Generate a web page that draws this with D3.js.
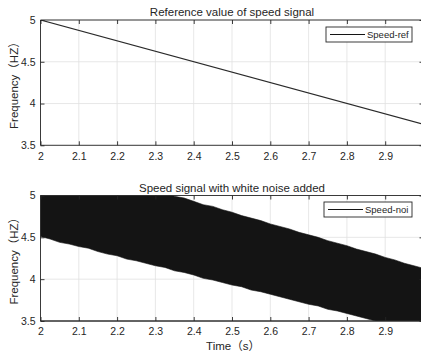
<!DOCTYPE html>
<html>
<head>
<meta charset="utf-8">
<script src="https://cdn.jsdelivr.net/npm/d3@7"></script>
<style>
  body { margin: 0; background: #fff; }
  text { font-family: "Liberation Sans", Arial, "Noto Sans CJK SC", sans-serif; fill: #262626; }
</style>
</head>
<body>
<svg id="chart" width="421" height="357"></svg>
<script>
// reference signal (straight ramp)
const refTime = [2, 3];
const refFreq = [5, 3.75];

// envelope of the noisy signal, every 0.025 s
const noiTime = [2.000, 2.025, 2.050, 2.075, 2.100, 2.125, 2.150, 2.175, 2.200, 2.225,
                 2.250, 2.275, 2.300, 2.325, 2.350, 2.375, 2.400, 2.425, 2.450, 2.475,
                 2.500, 2.525, 2.550, 2.575, 2.600, 2.625, 2.650, 2.675, 2.700, 2.725,
                 2.750, 2.775, 2.800, 2.825, 2.850, 2.875, 2.900, 2.925, 2.950, 2.975, 3.000];
const noiUpper = [5.46, 5.43, 5.39, 5.36, 5.33, 5.29, 5.26, 5.23, 5.19, 5.16,
                  5.13, 5.09, 5.06, 5.03, 4.99, 4.97, 4.93, 4.89, 4.87, 4.83,
                  4.80, 4.76, 4.73, 4.70, 4.66, 4.63, 4.60, 4.56, 4.53, 4.50,
                  4.46, 4.43, 4.40, 4.36, 4.33, 4.30, 4.26, 4.23, 4.19, 4.16, 4.13];
const noiLower = [4.51, 4.48, 4.44, 4.42, 4.39, 4.37, 4.33, 4.30, 4.28, 4.24,
                  4.22, 4.19, 4.16, 4.14, 4.10, 4.08, 4.05, 4.01, 3.99, 3.96,
                  3.93, 3.91, 3.87, 3.85, 3.82, 3.79, 3.76, 3.73, 3.70, 3.68,
                  3.64, 3.62, 3.59, 3.56, 3.53, 3.50, 3.47, 3.45, 3.41, 3.39, 3.36];

const xTicks = [2, 2.1, 2.2, 2.3, 2.4, 2.5, 2.6, 2.7, 2.8, 2.9, 3];
const yTicks = [3.5, 4, 4.5, 5];

const axColor = "#262626";
const gridColor = "#e1e1e1";
const inkColor = "#141414";
const fmt = d3.format("~g");

const svg = d3.select("#chart");

const x = d3.scaleLinear().domain([2, 3]).range([40.5, 423.5]);

function drawPanel(top, bottom, title, id) {
  const y = d3.scaleLinear().domain([3.5, 5]).range([bottom, top]);
  const g = svg.append("g");

  // grid
  g.selectAll(".gx").data(xTicks).enter().append("line")
    .attr("x1", d => x(d)).attr("x2", d => x(d))
    .attr("y1", top).attr("y2", bottom)
    .attr("stroke", gridColor).attr("stroke-width", 0.8);
  g.selectAll(".gy").data(yTicks).enter().append("line")
    .attr("x1", x(2)).attr("x2", x(3))
    .attr("y1", d => y(d)).attr("y2", d => y(d))
    .attr("stroke", gridColor).attr("stroke-width", 0.8);

  svg.append("clipPath").attr("id", id)
    .append("rect").attr("x", x(2)).attr("y", top)
    .attr("width", x(3) - x(2)).attr("height", bottom - top);

  const plot = g.append("g").attr("clip-path", "url(#" + id + ")");

  // axes (ticks point inward like matlab)
  const xb = g.append("g").attr("transform", "translate(0," + bottom + ")")
    .call(d3.axisBottom(x).tickValues(xTicks).tickSize(-4).tickPadding(7).tickFormat(fmt));
  const xt = g.append("g").attr("transform", "translate(0," + top + ")")
    .call(d3.axisTop(x).tickValues(xTicks).tickSize(-4).tickFormat(""));
  const yl = g.append("g").attr("transform", "translate(" + x(2) + ",0)")
    .call(d3.axisLeft(y).tickValues(yTicks).tickSize(-4).tickPadding(5).tickFormat(fmt));
  const yr = g.append("g").attr("transform", "translate(" + x(3) + ",0)")
    .call(d3.axisRight(y).tickValues(yTicks).tickSize(-4).tickFormat(""));
  [xb, xt, yl, yr].forEach(a => {
    a.selectAll("path").attr("stroke", axColor).attr("stroke-width", 0.9);
    a.selectAll("line").attr("stroke", axColor).attr("stroke-width", 0.9);
    a.selectAll("text").attr("font-size", 10.5).attr("fill", axColor)
      .style("font-family", "'Liberation Sans', Arial, sans-serif");
  });
  // no outer ticks on the frame
  [xb, xt].forEach(a => a.select(".domain").attr("d", "M" + x(2) + ",0H" + x(3)));
  [yl, yr].forEach(a => a.select(".domain").attr("d", "M0," + y(3.5) + "V" + y(5)));

  g.append("text")
    .attr("x", (x(2) + x(3)) / 2).attr("y", top - 4)
    .attr("text-anchor", "middle").attr("font-size", 11.5)
    .text(title);

  g.append("text")
    .attr("transform", "translate(18," + (top + bottom) / 2 + ") rotate(-90)")
    .attr("text-anchor", "middle").attr("font-size", 11.5)
    .text("Frequency（HZ）");

  return {y: y, plot: plot, g: g};
}

function drawLegend(g, x0, y0, w, label) {
  g.append("rect").attr("x", x0).attr("y", y0).attr("width", w).attr("height", 15)
    .attr("fill", "#fff").attr("stroke", axColor).attr("stroke-width", 0.9);
  g.append("line").attr("x1", x0 + 4).attr("x2", x0 + 39)
    .attr("y1", y0 + 7.5).attr("y2", y0 + 7.5)
    .attr("stroke", inkColor).attr("stroke-width", 1);
  g.append("text").attr("x", x0 + 41).attr("y", y0 + 11)
    .attr("font-size", 9.5).text(label);
}

// top panel
const p1 = drawPanel(20, 145.3, "Reference value of speed signal", "clipTop");
p1.plot.append("path")
  .datum(refTime.map((t, i) => [t, refFreq[i]]))
  .attr("fill", "none").attr("stroke", "#2a2a2a").attr("stroke-width", 1.2)
  .attr("d", d3.line().x(d => x(d[0])).y(d => p1.y(d[1])));
drawLegend(p1.g, 326, 27, 86, "Speed-ref");

// bottom panel
const p2 = drawPanel(195.5, 321, "Speed signal with white noise added", "clipBot");
p2.plot.append("path")
  .datum(noiTime.map((t, i) => ({t: t, lo: noiLower[i], hi: noiUpper[i]})))
  .attr("fill", inkColor).attr("stroke", inkColor).attr("stroke-width", 0.6)
  .attr("d", d3.area().x(d => x(d.t)).y0(d => p2.y(d.lo)).y1(d => p2.y(d.hi)));
// redraw the bottom frame over the band
p2.g.append("line").attr("x1", x(2)).attr("x2", x(3)).attr("y1", 321).attr("y2", 321)
  .attr("stroke", axColor).attr("stroke-width", 0.9);
drawLegend(p2.g, 324, 202, 88, "Speed-noi");

svg.append("text")
  .attr("x", 233).attr("y", 350)
  .attr("text-anchor", "middle").attr("font-size", 11.5)
  .text("Time（s）");
</script>
</body>
</html>
